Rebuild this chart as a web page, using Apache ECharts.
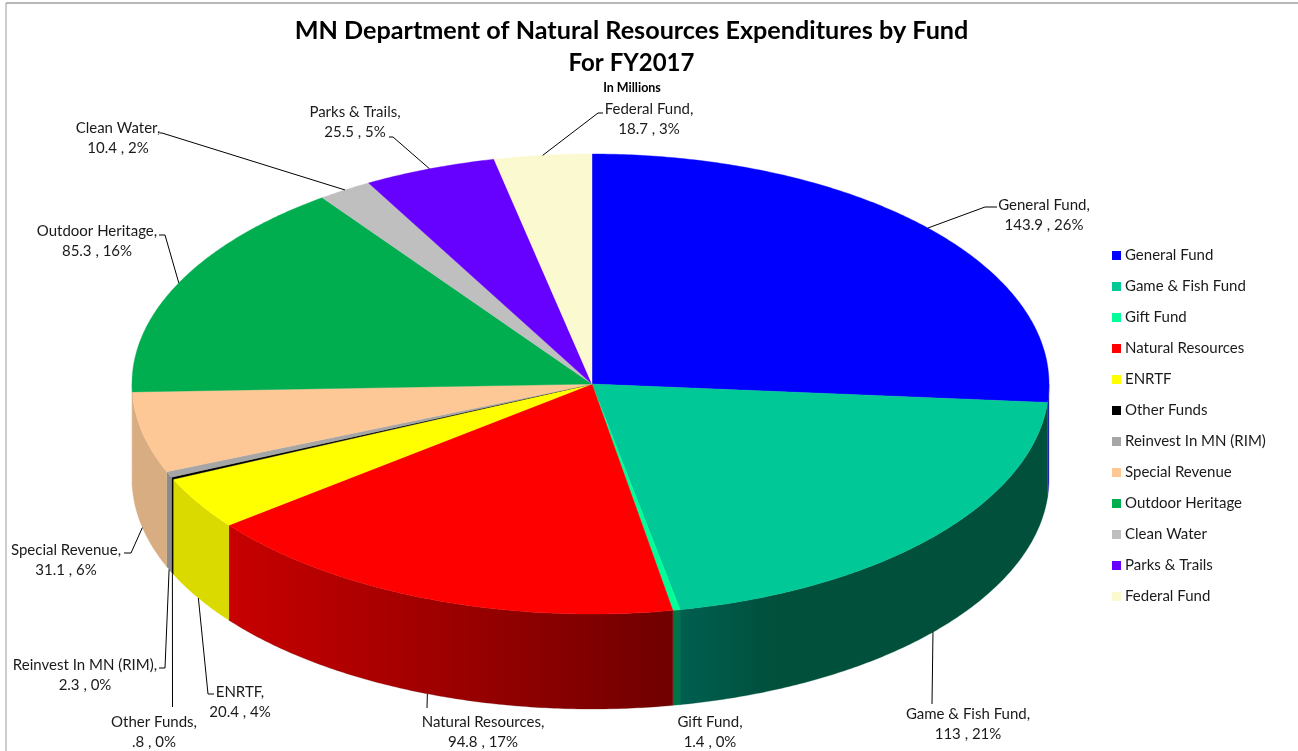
<!DOCTYPE html>
<html>
<head>
<meta charset="utf-8">
<style>html,body{margin:0;padding:0;background:#fff}#chart{width:1298px;height:751px}</style>
<script src="https://cdn.jsdelivr.net/npm/echarts@6/dist/echarts.min.js"></script>
</head>
<body>
<div id="chart"></div>
<script>
const funds = ['General Fund', 'Game & Fish Fund', 'Gift Fund', 'Natural Resources', 'ENRTF', 'Other Funds',
  'Reinvest In MN (RIM)', 'Special Revenue', 'Outdoor Heritage', 'Clean Water', 'Parks & Trails', 'Federal Fund'];
const values = [143.9, 113, 1.4, 94.8, 20.4, 0.8, 2.3, 31.1, 85.3, 10.4, 25.5, 18.7];
const topColors = ['#0000ff', '#00c896', '#00ff99', '#ff0000', '#ffff00', '#000000',
  '#a6a6a6', '#fdc896', '#00ae50', '#bfbfbf', '#6600ff', '#fbf9cf'];
// side wall shade, left to right, and where the right colour is reached
const wallLeft = ['#2222cc', '#005f50', '#00754a', '#c80000', '#dada00', '#000000',
  '#8a8a8a', '#d9ad82', '#d9ad82', '#bfbfbf', '#6600ff', '#fbf9cf'];
const wallRight = ['#2222aa', '#00503c', '#00754a', '#700000', '#dada00', '#000000',
  '#8a8a8a', '#d9ad82', '#d9ad82', '#bfbfbf', '#6600ff', '#fbf9cf'];
const wallStop = [1, 0.25, 1, 1, 1, 1, 1, 1, 1, 1, 1, 1];

// label block centre and elbow of the leader line
const labelSpots = [
  { x: 1044, y: 215.5, elbow: [[985, 207], [997, 207]] },
  { x: 968, y: 724.5, elbow: [[932, 704]] },
  { x: 710, y: 732.5 },
  { x: 483, y: 732.5, elbow: [[427, 708]] },
  { x: 240, y: 702, elbow: [[208, 694], [214, 694]] },
  { x: 154, y: 732.5, elbow: [[172.5, 707]] },
  { x: 85, y: 675.5, elbow: [[165, 668], [159, 668]] },
  { x: 66, y: 560, elbow: [[131, 553], [124, 553]] },
  { x: 97, y: 241.5, elbow: [[165, 235], [159, 235]] },
  { x: 118, y: 138.5, elbow: [[162, 133], [160, 133]] },
  { x: 355, y: 122.5, elbow: [[393, 137], [389, 137]] },
  { x: 649, y: 119.5, elbow: [[598, 113], [603, 113]] }
];

const cx = 592, cy = 384, rxLeft = 460, rxRight = 457, ry = 230, depth = 95;
const total = values.reduce((a, b) => a + b, 0);
const cumulative = values.map((v, i) => values.slice(0, i).reduce((a, b) => a + b, 0));
const font = '15px Lato, sans-serif';

function toDeg(v) {
  return echarts.number.linearMap(v, [0, total], [0, 360]);
}

// clockwise from 12 o'clock, on the top ellipse
function rim(deg, drop) {
  const a = deg * Math.PI / 180;
  const s = Math.sin(a);
  return [cx + (s < 0 ? rxLeft : rxRight) * s, cy - ry * Math.cos(a) + (drop || 0)];
}

function arc(from, to, drop) {
  const pts = [];
  const n = Math.max(2, Math.ceil((to - from) / 0.5));
  for (let i = 0; i <= n; i++) pts.push(rim(from + (to - from) * i / n, drop));
  return pts;
}

function labelText(i) {
  const v = String(values[i]).replace(/^0\./, '.');
  return funds[i] + ',\n' + v + ' , ' + Math.round(values[i] / total * 100) + '%';
}

function drawSlice(i, params, api) {
  const start = toDeg(cumulative[i]);
  const end = toDeg(cumulative[i] + api.value(0));
  const children = [];

  const wallA = Math.max(start, 90), wallB = Math.min(end, 270);
  if (wallB > wallA) {
    // the arc runs right to left along the front
    const xLeft = rim(wallB)[0], xRight = rim(wallA)[0];
    const upper = arc(wallA, wallB, 0);
    const lower = arc(wallA, wallB, depth).reverse();
    children.push({
      type: 'polygon',
      shape: { points: upper.concat(lower) },
      style: {
        fill: new echarts.graphic.LinearGradient(xLeft, 0, xRight, 0, [
          { offset: 0, color: wallLeft[i] },
          { offset: wallStop[i], color: wallRight[i] },
          { offset: 1, color: wallRight[i] }
        ], true),
        stroke: wallRight[i],
        lineWidth: 0.3
      }
    });
  }

  children.push({
    type: 'polygon',
    shape: { points: [[cx, cy]].concat(arc(start, end, 0)) },
    style: { fill: topColors[i], stroke: topColors[i], lineWidth: 0.4 }
  });

  const spot = labelSpots[i];
  if (spot.elbow) {
    const mid = (start + end) / 2;
    const from = rim(mid, mid > 90 && mid < 270 ? depth : 0);
    children.push({
      type: 'polyline',
      shape: { points: [from].concat(spot.elbow) },
      style: { stroke: '#000', lineWidth: 1, fill: null }
    });
  }
  children.push({
    type: 'text',
    style: {
      text: labelText(i), x: spot.x, y: spot.y, align: 'center', verticalAlign: 'middle',
      font: font, lineHeight: 20, fill: '#1a1a1a'
    }
  });
  return { type: 'group', children: children };
}

const chart = echarts.init(document.querySelector('#chart'));
chart.setOption({
  animation: false,
  backgroundColor: '#fff',
  title: [
    { text: 'MN Department of Natural Resources Expenditures by Fund', left: 626.5, top: 13.5, textAlign: 'center',
      textStyle: { fontFamily: 'Lato', fontSize: 25.2, fontWeight: 'bold', color: '#000' } },
    { text: 'For FY2017', left: 626.5, top: 46, textAlign: 'center',
      textStyle: { fontFamily: 'Lato', fontSize: 24, fontWeight: 'bold', color: '#000' } },
    { text: 'In Millions', left: 627, top: 76, textAlign: 'center',
      textStyle: { fontFamily: 'Lato', fontSize: 12.5, fontWeight: 'bold', color: '#000' } }
  ],
  legend: {
    orient: 'vertical',
    left: 1112,
    top: 247,
    icon: 'rect',
    itemWidth: 9,
    itemHeight: 9,
    itemGap: 14,
    selectedMode: false,
    padding: 0,
    data: funds,
    textStyle: { fontFamily: 'Lato', fontSize: 15, color: '#1a1a1a', height: 17, lineHeight: 17, padding: [0, 0, 0, -1] }
  },
  graphic: [
    { type: 'line', shape: { x1: 6, y1: 3, x2: 1298, y2: 3 }, style: { stroke: '#b8b8b8', lineWidth: 2 } },
    { type: 'line', shape: { x1: 6, y1: 3, x2: 6, y2: 751 }, style: { stroke: '#999', lineWidth: 1 } }
  ],
  series: funds.map((name, i) => ({
    name: name,
    type: 'custom',
    coordinateSystem: 'none',
    itemStyle: { color: topColors[i] },
    data: [[values[i]]],
    silent: true,
    renderItem: (params, api) => drawSlice(i, params, api)
  }))
});
</script>
</body>
</html>
